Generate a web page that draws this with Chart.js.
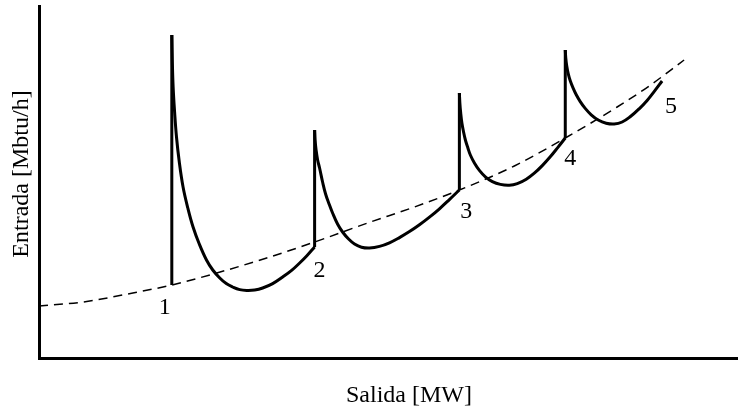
<!DOCTYPE html>
<html>
<head>
<meta charset="utf-8">
<script src="https://cdn.jsdelivr.net/npm/chart.js@4"></script>
<style>
  html, body { margin: 0; padding: 0; background: #fff; overflow: hidden; }
  canvas { display: block; }
</style>
</head>
<body>
<canvas id="chart-valvulas" width="738" height="413"></canvas>
<script>
// curva de entrada-salida sin efecto de válvulas (discontinua)
const curvaX = [0, 6.29, 13.43, 19.0, 25.43, 32.57, 39.43, 47.0, 53.71, 60.14, 68.0, 75.29, 82.71, 87.29, 92.29];
const curvaY = [13.0, 14.0, 16.25, 18.25, 21.25, 25.0, 29.0, 33.75, 37.75, 42.0, 48.0, 55.0, 62.75, 68.0, 74.5];

// apertura de válvulas: salto vertical en cada punto
const saltosX = [19.0, 39.43, 60.14, 75.29];
const saltosBase = [18.25, 27.75, 42.0, 55.0];
const saltosPico = [80.75, 57.0, 66.25, 77.0];

// tramos entre válvulas [x, y]
const tramo1 = [
  [19.0, 80.75], [19.07, 74.5], [19.19, 67.75], [19.4, 61.5], [19.67, 55.25], [20.07, 49.0],
  [20.61, 42.75], [21.29, 37.5], [22.04, 32.75], [22.93, 28.5], [23.96, 24.5], [24.86, 22.0],
  [25.86, 20.0], [26.79, 18.6], [27.71, 17.75], [28.71, 17.1], [29.71, 16.9], [30.86, 17.0],
  [32.0, 17.5], [33.43, 18.6], [34.86, 20.25], [36.14, 21.9], [37.29, 23.75], [38.29, 25.5],
  [39.43, 27.75],
];
const tramo2 = [
  [39.43, 57.0], [39.5, 54.5], [39.64, 52.0], [39.86, 49.5], [40.14, 47.5], [40.57, 44.0],
  [41.0, 41.0], [41.5, 38.5], [42.0, 36.25], [42.71, 33.5], [43.43, 31.5], [44.29, 29.75],
  [45.14, 28.5], [46.14, 27.7], [47.29, 27.5], [48.71, 27.9], [50.14, 28.8], [51.57, 30.1],
  [53.0, 31.6], [54.43, 33.3], [55.86, 35.2], [57.29, 37.3], [58.71, 39.6], [60.14, 42.0],
];
const tramo3 = [
  [60.14, 66.25], [60.21, 63.75], [60.33, 61.25], [60.5, 58.75], [60.71, 56.75], [61.0, 54.5],
  [61.36, 52.5], [61.71, 50.75], [62.29, 48.75], [63.0, 46.9], [63.86, 45.3], [64.86, 44.1],
  [66.0, 43.4], [67.29, 43.2], [68.43, 43.6], [69.71, 44.7], [70.86, 46.2], [72.0, 48.1],
  [73.14, 50.3], [74.21, 52.6], [75.29, 55.0],
];
const tramo4 = [
  [75.29, 77.0], [75.36, 75.0], [75.5, 73.0], [75.71, 71.1], [76.0, 69.3], [76.43, 67.4],
  [76.86, 65.8], [77.43, 64.1], [78.14, 62.4], [79.0, 60.8], [80.0, 59.5], [81.14, 58.7],
  [82.29, 58.5], [83.43, 59.0], [84.57, 60.3], [85.86, 62.3], [87.0, 64.4], [88.0, 66.6],
  [89.14, 69.25],
];

// etiquetas de los puntos de válvula
const etiquetas = ["1", "2", "3", "4", "5"];
const etiquetasX = [18.0, 40.14, 61.14, 76.0, 90.43];
const etiquetasY = [11.0, 20.25, 35.0, 48.25, 61.25];

const fuente = '24px "Liberation Serif", "Times New Roman", Times, serif';

const aPuntos = (pares) => pares.map(([x, y]) => ({ x, y }));

const saltos = [];
saltosX.forEach((x, i) => {
  saltos.push({ x, y: saltosBase[i] }, { x, y: saltosPico[i] }, { x, y: null });
});

const tramoStyle = {
  borderColor: "#000",
  borderWidth: 3,
  pointRadius: 0,
  tension: 0.4,
  borderCapStyle: "butt",
  borderJoinStyle: "round",
};

const textos = {
  id: "textos",
  afterDatasetsDraw(chart) {
    const { ctx, scales: { x, y } } = chart;
    ctx.save();
    ctx.fillStyle = "#000";
    ctx.font = fuente;
    ctx.textAlign = "center";
    ctx.textBaseline = "alphabetic";
    etiquetas.forEach((t, i) => {
      ctx.fillText(t, x.getPixelForValue(etiquetasX[i]), y.getPixelForValue(etiquetasY[i]));
    });
    ctx.fillText("Salida [MW]", 409, 402);
    ctx.translate(28, 174);
    ctx.rotate(-Math.PI / 2);
    ctx.fillText("Entrada [Mbtu/h]", 0, 0);
    ctx.restore();
  },
};

function dibujar() {
  new Chart(document.querySelector("#chart-valvulas"), {
    type: "line",
    data: {
      datasets: [
        {
          label: "Curva sin válvulas",
          data: curvaX.map((x, i) => ({ x, y: curvaY[i] })),
          borderColor: "#000",
          borderWidth: 1.5,
          borderDash: [9, 6],
          pointRadius: 0,
          cubicInterpolationMode: "monotone",
        },
        {
          label: "Saltos",
          data: saltos,
          borderColor: "#000",
          borderWidth: 3,
          pointRadius: 0,
          tension: 0,
          spanGaps: false,
          borderCapStyle: "butt",
        },
        { label: "Tramo 1", data: aPuntos(tramo1), ...tramoStyle },
        { label: "Tramo 2", data: aPuntos(tramo2), ...tramoStyle },
        { label: "Tramo 3", data: aPuntos(tramo3), ...tramoStyle },
        { label: "Tramo 4", data: aPuntos(tramo4), ...tramoStyle },
      ],
    },
    options: {
      responsive: false,
      animation: false,
      parsing: false,
      layout: { padding: { left: 39, top: 6, right: 0, bottom: 55 } },
      plugins: {
        legend: { display: false },
        tooltip: { enabled: false },
      },
      scales: {
        x: {
          type: "linear",
          min: 0,
          max: 100,
          grid: { display: false, drawTicks: false },
          ticks: { display: false },
          border: { display: true, color: "#000", width: 3 },
        },
        y: {
          type: "linear",
          min: 0,
          max: 88,
          grid: { display: false, drawTicks: false },
          ticks: { display: false },
          border: { display: true, color: "#000", width: 3 },
        },
      },
    },
    plugins: [textos],
  });
}

document.fonts.load(fuente).then(dibujar, dibujar);
</script>
</body>
</html>
